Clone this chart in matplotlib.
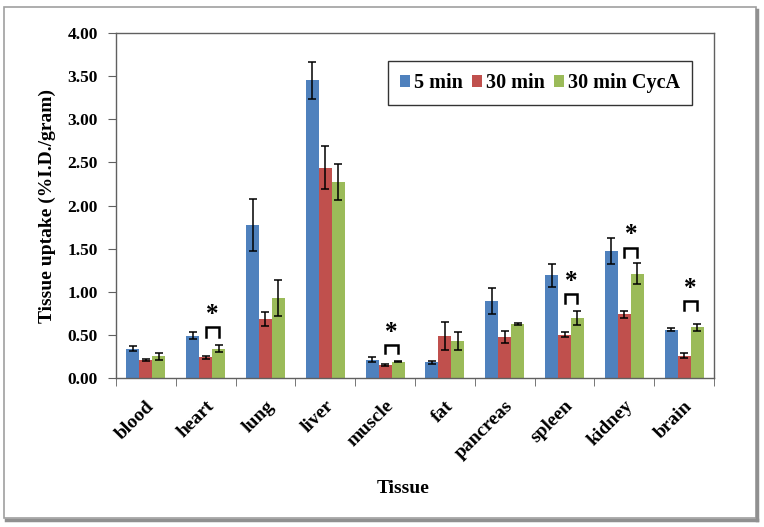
import numpy as np
import matplotlib
matplotlib.use("Agg")
import matplotlib.pyplot as plt
from matplotlib.patches import Rectangle
from matplotlib.lines import Line2D

plt.rcParams["font.family"] = ["Liberation Serif", "DejaVu Serif"]
plt.rcParams["font.weight"] = "bold"

tissues = ["blood", "heart", "lung", "liver", "muscle", "fat", "pancreas",
           "spleen", "kidney", "brain"]
series = ["5 min", "30 min", "30 min CycA"]
colors = ["#4F81BD", "#C0504D", "#9BBB59"]

min5 = [0.34, 0.49, 1.77, 3.45, 0.21, 0.18, 0.89, 1.19, 1.47, 0.56]
min5_err = [0.03, 0.04, 0.30, 0.21, 0.03, 0.02, 0.15, 0.13, 0.15, 0.02]
min30 = [0.21, 0.24, 0.68, 2.44, 0.15, 0.49, 0.48, 0.50, 0.74, 0.26]
min30_err = [0.01, 0.02, 0.08, 0.25, 0.01, 0.16, 0.07, 0.03, 0.04, 0.03]
cyca = [0.25, 0.34, 0.93, 2.27, 0.19, 0.43, 0.63, 0.70, 1.21, 0.59]
cyca_err = [0.04, 0.04, 0.21, 0.21, 0.01, 0.10, 0.01, 0.08, 0.12, 0.04]

# significance brackets (30 min vs 30 min CycA): tissue, bracket top, leg bottom
sig_tissues = ["heart", "muscle", "spleen", "kidney", "brain"]
sig_top = [0.59, 0.38, 0.97, 1.51, 0.89]
sig_leg = [0.48, 0.29, 0.87, 1.40, 0.79]

fig = plt.figure(figsize=(7.64, 5.27), dpi=100)
ax = fig.add_axes([0.1518, 0.2827, 0.7828, 0.6546])

x = np.arange(len(tissues)) + 0.5
w = 0.217
vals = [min5, min30, cyca]
errs = [min5_err, min30_err, cyca_err]
for i, (v, e) in enumerate(zip(vals, errs)):
    ax.bar(x + (i - 1) * w, v, w, color=colors[i], label=series[i],
           yerr=e, capsize=3.2,
           error_kw=dict(ecolor="black", elinewidth=1.1, capthick=1.1))

for t, top, leg in zip(sig_tissues, sig_top, sig_leg):
    k = tissues.index(t)
    xl, xr = x[k], x[k] + w
    ax.plot([xl, xl, xr, xr], [leg, top, top, leg], color="black", lw=1.8,
            solid_joinstyle="miter")
    ax.text((xl + xr) / 2, top + 0.015, "*", ha="center", va="bottom",
            fontsize=18, fontweight="bold")

ax.set_xlim(0, len(tissues))
ax.set_ylim(0, 4)
ax.set_yticks(np.arange(0, 4.01, 0.5))
ax.set_yticklabels([f"{t:.2f}" for t in np.arange(0, 4.01, 0.5)], fontsize=12.5)
ax.set_xticks(x)
ax.set_xticklabels(tissues, rotation=45, ha="right", rotation_mode="anchor",
                   fontsize=14)
ax.set_xticks(np.arange(0, len(tissues) + 1), minor=True)
ax.tick_params(axis="x", which="major", length=0, pad=14)
ax.tick_params(axis="x", which="minor", length=6, color="#606060", direction="out")
ax.tick_params(axis="y", length=6, color="#606060", pad=7)

for s in ax.spines.values():
    s.set_color("#606060")
    s.set_linewidth(1.0)

ax.set_xlabel("Tissue", fontsize=14, fontweight="bold")
ax.xaxis.set_label_coords(0.48, -0.295)
ax.set_ylabel("Tissue uptake (%I.D./gram)", fontsize=14, fontweight="bold",
              labelpad=8)

leg = ax.legend(loc="upper right", bbox_to_anchor=(0.963, 0.919), ncol=3,
                fontsize=14.5, frameon=True, fancybox=False, edgecolor="black",
                handlelength=0.5, handleheight=0.5, handletextpad=0.2,
                columnspacing=0.45, borderpad=0.6, borderaxespad=0)
leg.get_frame().set_linewidth(1.0)

# outer chart frame with shadow
fig.patches.append(Rectangle((4 / 764, 1 - 518 / 527), 752 / 764, 511 / 527,
                             transform=fig.transFigure, fill=False,
                             edgecolor="#A0A0A0", lw=1.2))
fig.lines.append(Line2D([757 / 764, 757 / 764], [1 - 520 / 527, 1 - 10 / 527],
                        transform=fig.transFigure, color="#909090", lw=2.5))
fig.lines.append(Line2D([6 / 764, 757 / 764], [1 - 520 / 527, 1 - 520 / 527],
                        transform=fig.transFigure, color="#909090", lw=2.5))

fig.savefig("out.png", dpi=100)
